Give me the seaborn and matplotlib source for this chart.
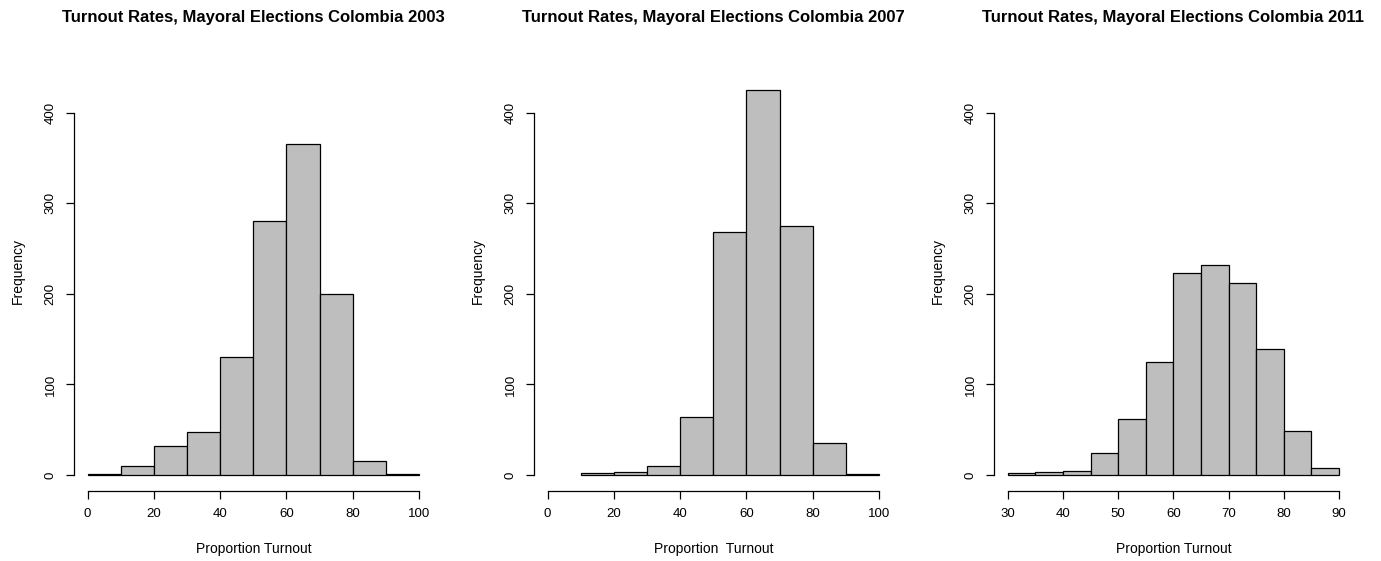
import numpy as np
import pandas as pd
import matplotlib
matplotlib.use("Agg")
import matplotlib.pyplot as plt
import seaborn as sns

# bin edges and counts
edges_2003 = [0, 10, 20, 30, 40, 50, 60, 70, 80, 90, 100]
counts_2003 = [1, 10, 32, 47, 130, 280, 365, 200, 16, 1]

edges_2007 = [10, 20, 30, 40, 50, 60, 70, 80, 90, 100]
counts_2007 = [2, 3, 10, 64, 268, 425, 275, 35, 1]

edges_2011 = [30, 35, 40, 45, 50, 55, 60, 65, 70, 75, 80, 85, 90]
counts_2011 = [2, 3, 4, 24, 62, 125, 223, 232, 212, 139, 49, 8]

titles = ["Turnout Rates, Mayoral Elections Colombia 2003",
          "Turnout Rates, Mayoral Elections Colombia 2007",
          "Turnout Rates, Mayoral Elections Colombia 2011"]
xlabels = ["Proportion Turnout", "Proportion  Turnout", "Proportion Turnout"]
xticks_list = [[0, 20, 40, 60, 80, 100], [0, 20, 40, 60, 80, 100], [30, 40, 50, 60, 70, 80, 90]]
yticks = [0, 100, 200, 300, 400]

sns.set_style("ticks")
plt.rcParams["font.family"] = ["Liberation Sans", "DejaVu Sans"]
plt.rcParams["text.color"] = "black"
plt.rcParams["axes.labelcolor"] = "black"

fig = plt.figure(figsize=(13.81, 5.61), dpi=100)

panels = [(edges_2003, counts_2003), (edges_2007, counts_2007), (edges_2011, counts_2011)]
for i, (edges, counts) in enumerate(panels):
    ax = fig.add_axes([(74.4 + 460 * i) / 1381, 0.1242, 357.9 / 1381, 0.7847])
    centers = [(a + b) / 2 for a, b in zip(edges[:-1], edges[1:])]
    df = pd.DataFrame({"x": centers, "n": counts})
    sns.histplot(data=df, x="x", weights="n", bins=edges, ax=ax,
                 color="#BEBEBE", edgecolor="black", linewidth=0.9, alpha=1)
    xt = xticks_list[i]
    ext = (xt[-1] - xt[0]) * 0.04
    ax.set_xlim(xt[0] - ext, xt[-1] + ext)
    ax.set_ylim(-18, 468)
    ax.set_xticks(xt)
    ax.set_yticks(yticks)
    ax.set_yticklabels([str(v) for v in yticks], rotation=90, va="center")
    for s in ["top", "right"]:
        ax.spines[s].set_visible(False)
    ax.spines["left"].set_bounds(0, 400)
    ax.spines["bottom"].set_bounds(xt[0], xt[-1])
    for s in ["left", "bottom"]:
        ax.spines[s].set_linewidth(0.9)
        ax.spines[s].set_color("black")
    ax.tick_params(axis="both", direction="out", length=5.8, width=0.9,
                   labelsize=9.5, colors="black")
    ax.tick_params(axis="x", pad=6)
    ax.tick_params(axis="y", pad=7)
    ax.set_xlabel(xlabels[i], fontsize=10)
    ax.xaxis.set_label_coords(0.5, -0.131)
    ax.xaxis.label.set_va("center")
    ax.set_ylabel("Frequency", fontsize=10)
    ax.yaxis.set_label_coords(-0.1576, 0.5)
    ax.yaxis.label.set_va("center")
    ax.set_title(titles[i], fontsize=12, fontweight="bold", y=1.077, va="center", pad=0)

fig.savefig("out.png", dpi=100)
